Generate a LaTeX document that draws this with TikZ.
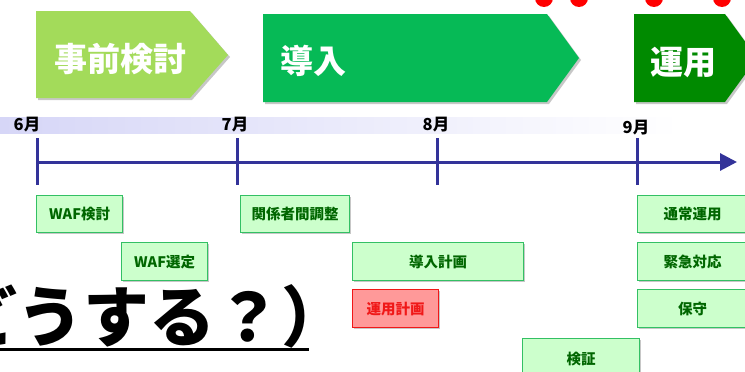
\documentclass[tikz,border=0pt]{standalone}
\usepackage{fontspec}
\setmainfont{Noto Sans CJK JP}
\usetikzlibrary{arrows.meta}
\definecolor{pgA}{HTML}{A3DB5A}
\definecolor{pgB}{HTML}{06BA56}
\definecolor{pgC}{HTML}{008A00}
\definecolor{tline}{HTML}{333399}
\definecolor{lav}{HTML}{D6D6F7}
\definecolor{boxfill}{HTML}{CCFFCC}
\definecolor{boxline}{HTML}{33C064}
\definecolor{boxtext}{HTML}{006600}
\definecolor{redfill}{HTML}{FF9999}
\definecolor{redline}{HTML}{F01818}
\tikzset{
  phasetext/.style={text=white, font=\bfseries\fontsize{33}{33}\selectfont, inner sep=0pt},
  month/.style={font=\bfseries\fontsize{16.5}{16.5}\selectfont, inner sep=0pt},
  tick/.style={draw=tline, line width=3pt},
  taskbox/.style={draw=boxline, fill=boxfill, line width=1.2pt, anchor=north west,
    text=boxtext, font=\bfseries\fontsize{14.5}{14.5}\selectfont, inner sep=0pt},
  redbox/.style={taskbox, draw=redline, fill=redfill, text=redline},
  shadowbox/.style={fill=black!22, draw=none},
  dot/.style={fill=red, draw=none},
}
\begin{document}
\begin{tikzpicture}[x=1pt, y=-1pt]
\useasboundingbox (0,0) rectangle (745,372);
% red dots at top
\foreach \dx in {544,579,654,722} \fill[dot] (\dx,-2) circle (9);
% phase arrows (shadows)
\fill[shadowbox] (38,13) -- (192,13) -- (230,57) -- (192,100) -- (38,100) -- cycle;
\fill[shadowbox] (265,16) -- (549,16) -- (581,60) -- (549,104) -- (265,104) -- cycle;
\fill[shadowbox] (636,16) -- (727,16) -- (759,60) -- (727,104) -- (636,104) -- cycle;
% phase arrows
\fill[pgA] (36,11) -- (190,11) -- (228,55) -- (190,98) -- (36,98) -- cycle;
\fill[pgB] (263,14) -- (547,14) -- (579,58) -- (547,102) -- (263,102) -- cycle;
\fill[pgC] (634,14) -- (725,14) -- (757,58) -- (725,102) -- (634,102) -- cycle;
\node[phasetext] (p1) at (120,59) {事前検討};
\node[phasetext, anchor=west] (p2) at (280,61) {導入};
\node[phasetext, anchor=west] (p3) at (650,62) {運用};
% gradient band
\fill[left color=lav, right color=white] (0,117) rectangle (680,133);
% months
\node[month] (m6) at (27,125) {6月};
\node[month] (m7) at (235,125) {7月};
\node[month] (m8) at (436,125) {8月};
\node[month] (m9) at (636,128) {9月};
% timeline
\coordinate (t0) at (37,162);
\coordinate (tend) at (737,162);
\draw[tline, line width=3pt, -{Triangle[length=17pt,width=17pt]}] (t0) -- (tend);
\foreach \tx/\nm in {37/a,237/b,437/c,637/d} {
  \coordinate (tt\nm) at (\tx,138);
  \coordinate (tb\nm) at (\tx,185);
  \draw[tick] (tt\nm) -- (tb\nm);
}
% task boxes (shadows)
\foreach \bx/\by/\bw/\bh in {36/195/86/37,121/242/86/38,240/195/109/37,352/242/171/38,352/289/86/38,522/338/117/40,637/195/110/37,637/242/110/38,637/289/110/38}
  \fill[shadowbox] (\bx+2,\by+2) rectangle ++(\bw,\bh);
% task boxes
\node[taskbox, minimum width=86pt, minimum height=37pt] (b1) at (36,195) {WAF検討};
\node[taskbox, minimum width=86pt, minimum height=38pt] (b2) at (121,242) {WAF選定};
\node[taskbox, minimum width=109pt, minimum height=37pt] (b3) at (240,195) {関係者間調整};
\node[taskbox, minimum width=171pt, minimum height=38pt] (b4) at (352,242) {導入計画};
\node[redbox, minimum width=86pt, minimum height=38pt] (b5) at (352,289) {運用計画};
\node[taskbox, minimum width=117pt, minimum height=40pt] (b6) at (522,338) {検証};
\node[taskbox, minimum width=110pt, minimum height=37pt] (b7) at (637,195) {通常運用};
\node[taskbox, minimum width=110pt, minimum height=38pt] (b8) at (637,242) {緊急対応};
\node[taskbox, minimum width=110pt, minimum height=38pt] (b9) at (637,289) {保守};
% big text
\node[anchor=base west, inner sep=0pt, font=\bfseries\fontsize{66}{66}\selectfont] (big) at (-49,341) {どうする？）};
\coordinate (u0) at (0,349);
\coordinate (u1) at (309,349);
\draw[black, line width=3pt] (u0) -- (u1);
\end{tikzpicture}
\end{document}
